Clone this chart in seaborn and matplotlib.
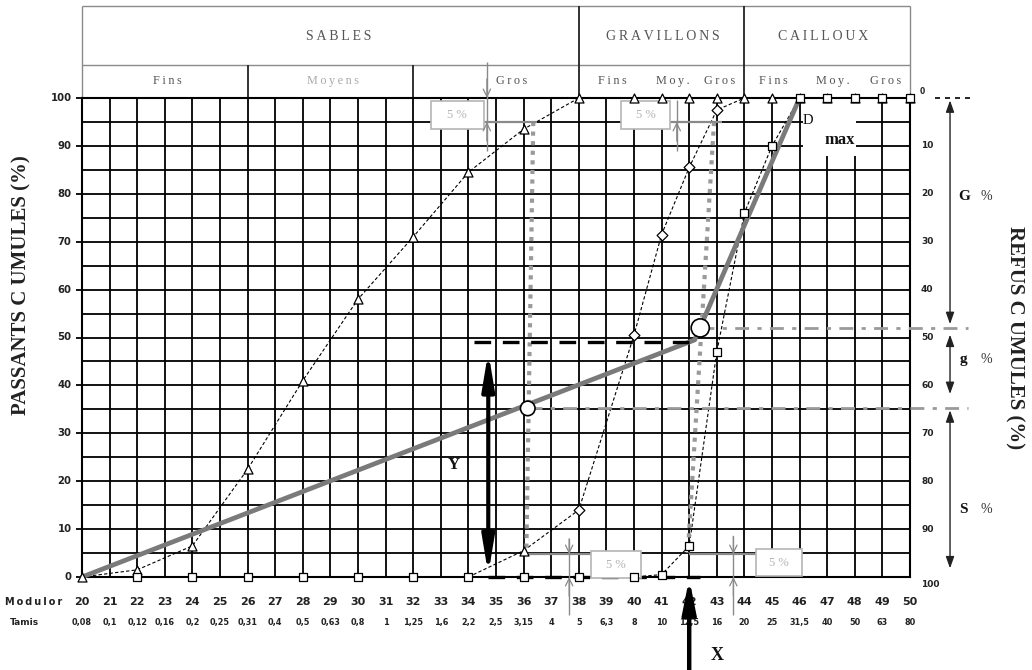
import matplotlib
matplotlib.use("Agg")
import matplotlib.pyplot as plt
from matplotlib.patches import Rectangle
import seaborn as sns

sns.set_theme(style="white")
plt.rcParams["font.family"] = ["DejaVu Sans"]

# ---------------------------------------------------------------- data
# Modulor scale (x axis) and the matching sieve openings in mm
modules = [20, 21, 22, 23, 24, 25, 26, 27, 28, 29, 30, 31, 32, 33, 34, 35,
           36, 37, 38, 39, 40, 41, 42, 43, 44, 45, 46, 47, 48, 49, 50]
tamis = ["0,08", "0,1", "0,12", "0,16", "0,2", "0,25", "0,31", "0,4", "0,5",
         "0,63", "0,8", "1", "1,25", "1,6", "2,2", "2,5", "3,15", "4", "5",
         "6,3", "8", "10", "12,5", "16", "20", "25", "31,5", "40", "50", "63", "80"]
pass_ticks = [0, 10, 20, 30, 40, 50, 60, 70, 80, 90, 100]
refus_ticks = [10, 20, 30, 40, 50, 60, 70, 80, 90]

# Sand (triangles)
sand_mod = [20, 22, 24, 26, 28, 30, 32, 34, 36, 38, 40, 41, 42, 43, 44, 45,
            46, 47, 48, 49, 50]
sand_pass = [0, 1.5, 6.5, 22.5, 41, 58, 71, 84.5, 93.5, 100, 100, 100, 100,
             100, 100, 100, 100, 100, 100, 100, 100]

# Fine gravel (diamonds)
grav1_mod = [34, 36, 38, 40, 41, 42, 43, 44]
grav1_pass = [0, 5.5, 14, 50.5, 71.5, 85.5, 97.5, 100]

# Coarse gravel (squares)
grav2_mod = [22, 24, 26, 28, 30, 32, 34, 36, 38, 40, 41, 42, 43, 44, 45,
             46, 47, 48, 49, 50]
grav2_pass = [0, 0, 0, 0, 0, 0, 0, 0, 0, 0, 0.5, 6.5, 47, 76, 90,
              100, 100, 100, 100, 100]

# Reference curve O-A-B (Dreux-Gorisse)
ref_mod = [20, 42.2, 46]
ref_pass = [0, 49.5, 100]

# Separation lines 95 % -> 5 % between consecutive aggregates
sep1_mod = [36.35, 36.1]
sep1_pass = [95, 5.5]
sep2_mod = [42.9, 41.95]
sep2_pass = [95, 5]

# Intersections of the separation lines with the reference curve
cross_mod = [36.15, 42.4]
cross_pass = [35.2, 52]

# ---------------------------------------------------------------- figure
fig = plt.figure(figsize=(10.32, 6.70), dpi=100)
ax = fig.add_axes([82 / 1032, 1 - 577 / 670, 828 / 1032, 479 / 670])
ax.set_xlim(20, 50)
ax.set_ylim(0, 100)
ax.set_xticks(modules)
ax.set_yticks(list(range(0, 101, 5)))
ax.tick_params(length=0, labelbottom=False, labelleft=False)
ax.grid(True, color="black", lw=1.3)
ax.set_axisbelow(True)
for sp in ax.spines.values():
    sp.set_color("black")
    sp.set_linewidth(1.5)

GRAY = "#8a8a8a"
LGRAY = "#b5b5b5"
SERIF = ["Liberation Serif", "DejaVu Serif"]


def spaced(s):
    return "\u2009".join(s)


def line(x0, x1, y0, y1, **kw):
    ax.plot([x0, x1], [y0, y1], clip_on=False, solid_capstyle="butt", **kw)


# left ticks at every 10 %
for v in pass_ticks:
    line(19.8, 20, v, v, color="black", lw=1.3)
    ax.text(19.62, v, str(v), ha="right", va="center", fontsize=7.3,
            fontweight="bold", color="#222")
# right scale (refus)
ax.text(50.35, 101.3, "0", ha="left", va="center", fontsize=5.5,
        fontweight="bold", color="#222")
for v in refus_ticks:
    ax.text(50.4, 100 - v, str(v), ha="left", va="center", fontsize=6.5,
            fontweight="bold", color="#222")
ax.text(50.4, -1.6, "100", ha="left", va="center", fontsize=6.5,
        fontweight="bold", color="#222")

# bottom scales
ax.text(17.2, -5.2, spaced("Modulor"), ha="left", va="center", fontsize=7,
        fontweight="bold", color="#222")
ax.text(17.4, -9.6, "Tamis", ha="left", va="center", fontsize=6.5,
        fontweight="bold", color="#222")
for m, t in zip(modules, tamis):
    ax.text(m, -5.2, str(m), ha="center", va="center", fontsize=8,
            fontweight="bold", color="#222")
    ax.text(m, -9.6, t, ha="center", va="center", fontsize=5.9,
            fontweight="bold", color="#222")

# axis titles
ax.text(17.8, 61, "PASSANTS C UMULES (%)", rotation=90, ha="center",
        va="center", fontsize=15, fontweight="bold", family=SERIF,
        color="#222")
ax.text(53.8, 50, "REFUS C UMULES (%)", rotation=-90, ha="center",
        va="center", fontsize=15, fontweight="bold", family=SERIF,
        color="#222")

# ---------------------------------------------------------------- header
top, mid = 119.2, 106.8
line(20, 50, top, top, color=GRAY, lw=1)
line(20, 50, mid, mid, color=GRAY, lw=1)
line(20, 20, 100, top, color=GRAY, lw=1)
line(50, 50, 100, top, color=GRAY, lw=1)
for x in (38, 44):
    line(x, x, 100, top, color="#222", lw=1.3)
for x in (26, 32):
    line(x, x, 100, mid, color="#222", lw=1.3)
for lab, x in (("SABLES", 29.3), ("GRAVILLONS", 41.05), ("CAILLOUX", 46.85)):
    ax.text(x, 112.8, spaced(lab), ha="center", va="center", fontsize=10,
            family=SERIF, color="#555")
for lab, x, c in (("Fins", 23.1, "#555"), ("Moyens", 29.1, "#aaa"),
                  ("Gros", 35.55, "#555"), ("Fins", 39.2, "#555"),
                  ("Moy.", 41.4, "#555"), ("Gros", 43.1, "#555"),
                  ("Fins", 45.05, "#555"), ("Moy.", 47.2, "#555"),
                  ("Gros", 49.1, "#555")):
    ax.text(x, 103.6, spaced(lab), ha="center", va="center", fontsize=8.8,
            family=SERIF, color=c)

# ---------------------------------------------------------------- D max
ax.add_patch(Rectangle((46.12, 87.8), 1.93, 11.2, facecolor="white",
                       edgecolor="none", zorder=1.2))
ax.text(46.3, 95.3, "D", ha="center", va="center", fontsize=10.5,
        family=SERIF, color="#111", zorder=6)
ax.text(47.45, 91.3, "max", ha="center", va="center", fontsize=12,
        fontweight="bold", family=SERIF, color="#111", zorder=6)

# ---------------------------------------------------------------- 5 % marks
def five_box(x0, x1, y0, y1):
    ax.add_patch(Rectangle((x0, y0), x1 - x0, y1 - y0, facecolor="white",
                           edgecolor=LGRAY, lw=1.2, zorder=5, clip_on=False))
    ax.text((x0 + x1) / 2, (y0 + y1) / 2, "5 %", ha="center", va="center",
            fontsize=9, family=SERIF, color=LGRAY, zorder=6)


def small_head(x, y, frm):
    ax.annotate("", xy=(x, y), xytext=(x, frm), annotation_clip=False,
                arrowprops=dict(arrowstyle="->,head_length=0.45,head_width=0.22",
                                color=GRAY, lw=0.9, shrinkA=0, shrinkB=0),
                zorder=6)


five_box(32.65, 34.55, 93.5, 99.4)
line(34.55, 36.5, 95, 95, color=GRAY, lw=1.6, zorder=4)
line(34.67, 34.67, 89, 107.5, color=GRAY, lw=1, zorder=4)
small_head(34.67, 100, 104)
small_head(34.67, 95, 91)

five_box(39.54, 41.29, 93.5, 99.4)
line(41.29, 43.2, 95, 95, color=GRAY, lw=1.6, zorder=4)
line(41.55, 41.55, 89, 99.5, color=GRAY, lw=1, zorder=4)
small_head(41.55, 95, 91)

five_box(38.45, 40.27, -0.2, 5.4)
line(36.1, 38.45, 4.8, 4.8, color=GRAY, lw=1.6, zorder=4)
line(37.65, 37.65, -8, 8, color=GRAY, lw=1, zorder=4)
small_head(37.65, 4.8, 8)
small_head(37.65, 0, -4)

five_box(44.41, 46.08, 0.2, 5.85)
line(42.0, 44.41, 4.8, 4.8, color=GRAY, lw=1.6, zorder=4)
line(43.6, 43.6, -8, 8.5, color=GRAY, lw=1, zorder=4)
small_head(43.6, 4.8, 8.5)
small_head(43.6, 0, -4)

# ---------------------------------------------------------------- curves
dash = (0, (3, 2))
for xs, ys in ((sand_mod, sand_pass), (grav1_mod, grav1_pass),
               (grav2_mod, grav2_pass)):
    sns.lineplot(x=xs, y=ys, ax=ax, estimator=None, sort=False,
                 color="black", lw=0.8, linestyle=dash, clip_on=False,
                 zorder=3)

sns.lineplot(x=ref_mod, y=ref_pass, ax=ax, estimator=None, sort=False,
             color="#7a7a7a", lw=3.4, clip_on=False, zorder=3.5)

for xs, ys in ((sep1_mod, sep1_pass), (sep2_mod, sep2_pass)):
    sns.lineplot(x=xs, y=ys, ax=ax, estimator=None, sort=False,
                 color="#9a9a9a", lw=3, linestyle=(0, (1, 1.3)),
                 clip_on=False, zorder=3.2)

# Dreux construction: dash-dot levels through the intersections
for x0, y in zip(cross_mod, cross_pass):
    line(x0, 52.1, y, y, color="#9a9a9a", lw=2, linestyle=(0, (5, 3, 1.5, 3)),
         zorder=3.1)

# black dashed bounds of the Y ordinate
line(34.2, 42.1, 49, 49, color="black", lw=2.4, linestyle=(0, (5, 3.5)),
     zorder=4)
line(34.7, 42.4, 0, 0, color="black", lw=2.4, linestyle=(0, (5, 3.5)),
     zorder=4)

# markers
mk = dict(ax=ax, color="white", edgecolor="black", linewidth=0.9,
          clip_on=False, zorder=5, legend=False)
sns.scatterplot(x=sand_mod, y=sand_pass, marker="^", s=42, **mk)
sns.scatterplot(x=grav1_mod[2:7], y=grav1_pass[2:7], marker="D", s=30, **mk)
sns.scatterplot(x=grav1_mod[1:2], y=grav1_pass[1:2], marker="^", s=42, **mk)
sns.scatterplot(x=grav2_mod, y=grav2_pass, marker="s", s=40, **mk)
sns.scatterplot(x=cross_mod, y=cross_pass, marker="o", s=[110, 170],
                **{**mk, "linewidth": 1.2, "zorder": 6})

# ---------------------------------------------------------------- arrows
ax.annotate("", xy=(34.72, 47), xytext=(34.72, 0.6), annotation_clip=False,
            arrowprops=dict(arrowstyle="<|-|>,head_length=1.2,head_width=0.2",
                            color="black", lw=3, mutation_scale=18,
                            shrinkA=0, shrinkB=0), zorder=7)
ax.text(33.45, 23.4, "Y", ha="center", va="center", fontsize=12,
        fontweight="bold", family=SERIF, color="#111")

ax.annotate("", xy=(42.0, -0.3), xytext=(42.0, -19.5), annotation_clip=False,
            arrowprops=dict(arrowstyle="-|>,head_length=1.1,head_width=0.22",
                            color="black", lw=3.2, mutation_scale=18,
                            shrinkA=0, shrinkB=0), zorder=7)
ax.text(43.0, -16.3, "X", ha="center", va="center", fontsize=13,
        fontweight="bold", family=SERIF, color="#111")

# right-hand split G / g / S
line(50.9, 52.25, 100, 100, color="black", lw=1.2, linestyle=(0, (3, 3)))
for y0, y1 in ((99.5, 52.8), (50.6, 38.2), (34.8, 1.8)):
    ax.annotate("", xy=(51.45, y1), xytext=(51.45, y0), annotation_clip=False,
                arrowprops=dict(arrowstyle="<|-|>,head_length=0.7,head_width=0.25",
                                color="#222", lw=1, mutation_scale=10,
                                shrinkA=0, shrinkB=0))
for lab, y in (("G", 79.5), ("g", 45.5), ("S", 14)):
    ax.text(51.95, y, lab, ha="center", va="center", fontsize=11,
            fontweight="bold", family=SERIF, color="#111")
    ax.text(52.75, y, "%", ha="center", va="center", fontsize=10,
            family=SERIF, color="#333")

fig.savefig("out.png", dpi=100)
